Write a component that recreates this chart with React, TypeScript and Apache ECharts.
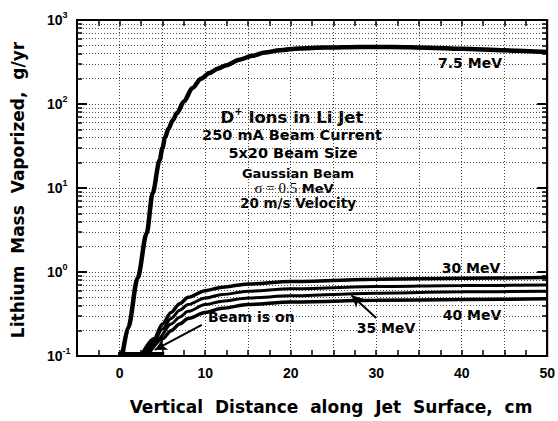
import React, { useEffect, useRef } from 'react';
import * as echarts from 'echarts';

// ---- data ----
const x75 = [0.3, 1, 2.1, 3.15, 3.85, 4.67, 5.0, 5.3, 5.7, 6.2, 6.7, 7.5, 8.5, 9.5, 10.5, 11.5, 12.5, 14, 15.5, 17, 18.7, 21, 24, 28, 32, 36, 40, 45, 50];
const y75 = [0.1, 0.22, 0.85, 2.9, 8.7, 21.6, 30, 40, 51, 64, 78, 107, 155, 200, 234, 265, 290, 337, 375, 410, 437, 458, 470, 478, 478, 468, 455, 435, 417];

const xA = [2.5, 4, 5, 6, 7, 8, 10, 12, 15, 20, 30, 40, 50];
const yA = [0.1, 0.16, 0.24, 0.33, 0.42, 0.5, 0.6, 0.66, 0.72, 0.77, 0.82, 0.84, 0.86];
const xB = [2.8, 4, 5, 6, 7, 8, 10, 12, 15, 20, 30, 40, 50];
const yB = [0.1, 0.15, 0.21, 0.28, 0.35, 0.41, 0.49, 0.54, 0.59, 0.63, 0.67, 0.69, 0.7];
const xC = [3, 4.5, 6, 7, 8, 10, 12, 15, 20, 30, 40, 50];
const yC = [0.1, 0.16, 0.24, 0.29, 0.34, 0.41, 0.45, 0.49, 0.52, 0.56, 0.58, 0.59];
const xD = [3.2, 5, 6, 7, 8, 10, 12, 15, 20, 30, 40, 50];
const yD = [0.1, 0.16, 0.2, 0.24, 0.28, 0.33, 0.37, 0.41, 0.44, 0.46, 0.47, 0.48];

const beamX = [-0.2, 5.2];
const beamY = [0.104, 0.104];

const xMin = -5;
const xMax = 50;
const yMin = 0.1;
const yMax = 1000;
const decades = [0.1, 1, 10, 100, 1000];
const minorMult = [2, 3, 4, 5, 6, 7, 8, 9];

const pair = (xs: number[], ys: number[]) => xs.map((x, i) => [x, ys[i]]);

const FONT = 'Liberation Sans';
const TFONT = 'DejaVu Sans';

export default function App() {
  const ref = useRef<HTMLDivElement>(null);
  useEffect(() => {
    document.body.style.margin = '0';
    const chart = echarts.init(ref.current!, undefined, { renderer: 'svg' });

    const minorVals: number[] = [];
    decades.slice(0, 4).forEach((d) => minorMult.forEach((m) => minorVals.push(d * m)));

    const gridLines = minorVals.map((v) => ({ yAxis: v }));
    const tickSegs: any[] = [];
    minorVals.forEach((v) => {
      tickSegs.push([{ coord: [xMin, v] }, { coord: [xMin + 0.6, v] }]);
      tickSegs.push([{ coord: [xMax - 0.6, v] }, { coord: [xMax, v] }]);
    });

    const curve = (name: string, data: number[][], w: number) => ({
      name,
      type: 'line',
      data,
      showSymbol: false,
      smooth: 0.3,
      smoothMonotone: 'x',
      lineStyle: { color: '#000', width: w },
      z: 5,
    });

    const axisLineX = { show: true, onZero: false, lineStyle: { color: '#000', width: 2 } };

    const option: any = {
      animation: false,
      backgroundColor: '#fff',
      grid: { left: 77, right: 10, top: 20, bottom: 65, show: true, borderColor: '#000', borderWidth: 2 },
      xAxis: [
        {
          type: 'value', min: xMin, max: xMax, interval: 5,
          axisLine: axisLineX,
          axisTick: { show: true, inside: true, length: 6, lineStyle: { color: '#000', width: 1.5 } },
          minorTick: { show: true, splitNumber: 2, length: 6, lineStyle: { color: '#000', width: 1.5 } },
          axisLabel: {
            formatter: (v: number) => (v % 10 === 0 ? String(v) : ''),
            color: '#000', fontFamily: FONT, fontWeight: 'bold', fontSize: 14, margin: 10,
          },
          splitLine: { show: true, lineStyle: { color: '#444', width: 1, type: [1, 2] } },
        },
        {
          type: 'value', min: xMin, max: xMax, interval: 5, position: 'top',
          axisLine: axisLineX,
          axisTick: { show: true, inside: true, length: 6, lineStyle: { color: '#000', width: 1.5 } },
          minorTick: { show: true, splitNumber: 2, length: 6, lineStyle: { color: '#000', width: 1.5 } },
          axisLabel: { show: false },
          splitLine: { show: false },
        },
      ],
      yAxis: [
        {
          type: 'log', logBase: 10, min: yMin, max: yMax,
          axisLine: axisLineX,
          axisTick: { show: true, inside: true, length: 10, lineStyle: { color: '#000', width: 2 } },
          axisLabel: {
            formatter: (v: number) => '10{s|' + Math.round(Math.log10(v)) + '}',
            color: '#000', fontFamily: FONT, fontWeight: 'bold', fontSize: 14, margin: 30, align: 'left',
            lineHeight: 20,
            rich: { s: { fontSize: 9, fontFamily: FONT, fontWeight: 'bold', color: '#000', lineHeight: 10, verticalAlign: 'top' } },
          },
          splitLine: { show: true, lineStyle: { color: '#444', width: 1, type: [1, 2] } },
        },
        {
          type: 'log', logBase: 10, min: yMin, max: yMax, position: 'right',
          axisLine: axisLineX,
          axisTick: { show: true, inside: true, length: 10, lineStyle: { color: '#000', width: 2 } },
          axisLabel: { show: false },
          splitLine: { show: false },
        },
      ],
      series: [
        {
          name: 'beam', type: 'line', data: pair(beamX, beamY), showSymbol: false,
          lineStyle: { color: '#000', width: 5 }, z: 4,
          markLine: {
            silent: true, symbol: 'none', animation: false,
            label: { show: false },
            lineStyle: { color: '#555', width: 1, type: [1, 2] },
            data: [...gridLines],
          },
        },
        {
          name: 'ticks', type: 'line', data: [[xMin, 1]], showSymbol: false, lineStyle: { opacity: 0 },
          markLine: {
            silent: true, symbol: 'none', animation: false,
            label: { show: false },
            lineStyle: { color: '#000', width: 1.5, type: 'solid' },
            data: tickSegs,
          },
        },
        {
          name: 'arrows', type: 'line', data: [[xMin, 1]], showSymbol: false, lineStyle: { opacity: 0 },
          markLine: {
            silent: true, symbol: ['none', 'arrow'], symbolSize: [9, 12], animation: false,
            label: { show: false },
            lineStyle: { color: '#000', width: 2, type: 'solid' },
            data: [
              [{ coord: [9.6, 0.234] }, { coord: [4.1, 0.118] }],
              [{ coord: [30.0, 0.283] }, { coord: [27.1, 0.53] }],
            ],
          },
        },
        curve('7.5 MeV', pair(x75, y75), 4.5),
        curve('30 MeV', pair(xA, yA), 3.5),
        curve('a', pair(xB, yB), 3),
        curve('35 MeV', pair(xC, yC), 3),
        curve('40 MeV', pair(xD, yD), 3.5),
      ],
      graphic: [
        {
          type: 'text', x: 292, y: 117,
          style: {
            text: 'D{s|+} Ions in Li Jet', fill: '#000', font: `bold 16.5px "${TFONT}"`,
            align: 'center', verticalAlign: 'middle', lineHeight: 22,
            rich: { s: { font: `bold 10px "${TFONT}"`, lineHeight: 10, verticalAlign: 'top', fill: '#000' } },
          },
        },
        { type: 'text', x: 292, y: 135, style: { text: '250 mA Beam Current', fill: '#000', font: `bold 14.5px "${TFONT}"`, align: 'center', verticalAlign: 'middle' } },
        { type: 'text', x: 293, y: 153, style: { text: '5x20 Beam Size', fill: '#000', font: `bold 14.5px "${TFONT}"`, align: 'center', verticalAlign: 'middle' } },
        { type: 'text', x: 298, y: 173, style: { text: 'Gaussian Beam', fill: '#000', font: `bold 13px "${TFONT}"`, align: 'center', verticalAlign: 'middle' } },
        {
          type: 'text', x: 294, y: 188,
          style: {
            text: '{g|σ = 0.5}{b| MeV}', fill: '#000', align: 'center', verticalAlign: 'middle',
            rich: {
              g: { font: '15px "Liberation Serif"', fill: '#000' },
              b: { font: `bold 13px "${TFONT}"`, fill: '#000' },
            },
          },
        },
        { type: 'text', x: 298, y: 203, style: { text: '20 m/s Velocity', fill: '#000', font: `bold 13.5px "${TFONT}"`, align: 'center', verticalAlign: 'middle' } },
        { type: 'text', x: 470, y: 63, style: { text: '7.5 MeV', fill: '#000', font: `bold 14px "${TFONT}"`, align: 'center', verticalAlign: 'middle' } },
        { type: 'text', x: 471, y: 268, style: { text: '30 MeV', fill: '#000', font: `bold 14px "${TFONT}"`, align: 'center', verticalAlign: 'middle' } },
        { type: 'text', x: 472, y: 315, style: { text: '40 MeV', fill: '#000', font: `bold 14px "${TFONT}"`, align: 'center', verticalAlign: 'middle' } },
        { type: 'text', x: 386, y: 328, style: { text: '35 MeV', fill: '#000', font: `bold 14px "${TFONT}"`, align: 'center', verticalAlign: 'middle' } },
        { type: 'text', x: 208, y: 317, style: { text: 'Beam is on', fill: '#000', font: `bold 14px "${TFONT}"`, align: 'left', verticalAlign: 'middle' } },
        { type: 'text', x: 331, y: 407, style: { text: 'Vertical  Distance  along  Jet  Surface,  cm', fill: '#000', font: `bold 17px "${TFONT}"`, align: 'center', verticalAlign: 'middle' } },
        {
          type: 'text', x: 18, y: 190, rotation: Math.PI / 2,
          style: { text: 'Lithium  Mass  Vaporized,  g/yr', fill: '#000', font: `bold 17px "${TFONT}"`, align: 'center', verticalAlign: 'middle' },
        },
      ],
    };
    chart.setOption(option);
    return () => chart.dispose();
  }, []);
  return <div ref={ref} style={{ width: 558, height: 421, position: 'absolute', left: 0, top: 0 }} />;
}
